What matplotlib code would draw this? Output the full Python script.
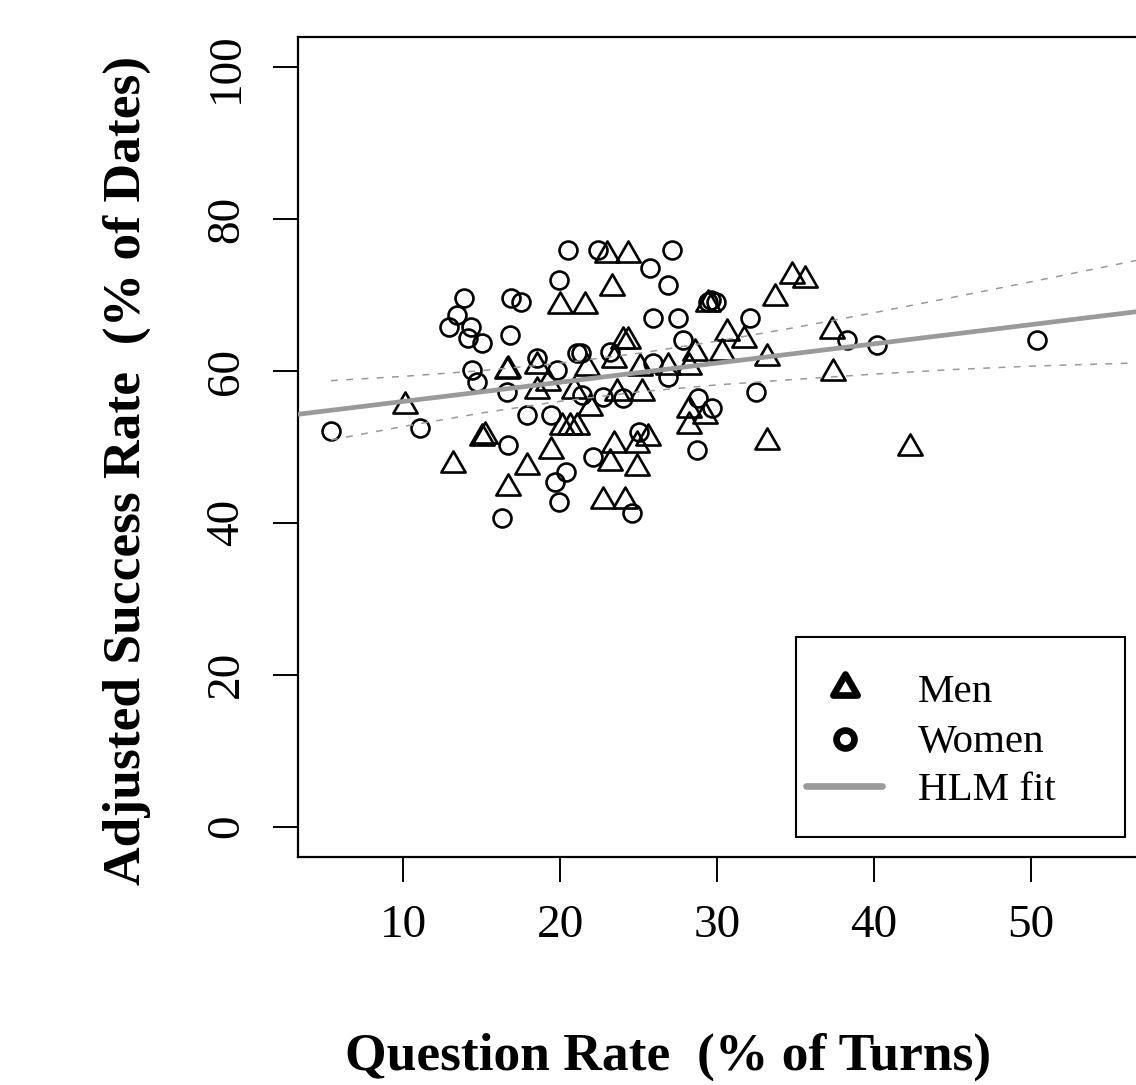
import matplotlib
matplotlib.use("Agg")
import matplotlib.pyplot as plt
from matplotlib.lines import Line2D
from matplotlib.patches import Rectangle
from matplotlib.path import Path

# ---------------- data ----------------
men_x = [10.1, 13.2, 15.0, 15.2, 16.7, 17.9, 19.4, 16.6, 16.7, 18.5, 18.5, 19.2, 20.9,
         20.0, 21.6, 23.0, 24.3, 23.3, 24.0, 24.3, 21.7, 23.4, 25.1, 26.9, 28.2, 28.6,
         30.3, 30.6, 31.7, 33.2, 33.7, 34.8, 35.6, 37.3, 37.4, 42.3, 33.2, 29.4, 23.6,
         25.2, 21.9, 20.1, 20.6, 21.1, 23.4, 24.9, 25.6, 23.2, 24.9, 22.7, 24.1, 28.2,
         28.2, 29.2]
men_y = [55.4, 47.6, 51.2, 51.4, 44.6, 47.3, 49.5, 60.0, 60.2, 60.7, 57.4, 58.4, 57.4,
         68.6, 68.6, 75.3, 75.3, 70.9, 64.0, 64.0, 60.4, 61.5, 60.4, 60.5, 60.5, 62.4,
         62.4, 65.0, 64.1, 61.7, 69.6, 72.5, 72.0, 65.3, 59.8, 49.9, 50.6, 68.8, 57.1,
         57.1, 55.1, 52.6, 52.6, 52.6, 50.3, 50.3, 51.2, 47.9, 47.2, 42.9, 42.9, 54.9,
         52.8, 54.1]

women_x = [5.4, 11.1, 12.9, 13.4, 13.9, 14.3, 14.1, 15.0, 14.4, 14.7, 16.9, 17.5, 16.8,
           16.6, 16.7, 16.3, 17.9, 18.5, 19.8, 19.4, 19.7, 19.9, 20.4, 19.9, 20.5, 21.1,
           21.3, 22.4, 22.1, 21.4, 22.7, 23.2, 24.0, 24.6, 25.0, 25.9, 25.7, 25.9, 26.9,
           27.1, 26.9, 27.5, 27.8, 28.7, 28.8, 29.7, 29.4, 29.6, 29.9, 32.1, 32.5, 38.3,
           40.2, 50.4]
women_y = [52.1, 52.5, 65.8, 67.4, 69.6, 65.8, 64.3, 63.7, 60.1, 58.6, 69.6, 69.1, 64.7,
           57.2, 50.3, 40.7, 54.2, 61.7, 60.1, 54.2, 45.4, 42.8, 46.7, 72.0, 75.9, 62.4,
           62.4, 75.9, 48.7, 56.8, 56.6, 62.5, 56.4, 41.3, 52.0, 67.0, 73.6, 61.0, 71.3,
           75.9, 59.2, 67.0, 64.1, 49.6, 56.4, 55.1, 69.1, 69.3, 69.1, 67.0, 57.2, 64.1,
           63.4, 64.1]

fit_intercept = 53.47
fit_slope = 0.253

ci_x = [5.4, 10, 15, 20, 25, 30, 35, 40, 45, 50, 56.7]
ci_upper = [58.74, 59.30, 60.06, 61.04, 62.34, 63.94, 65.75, 67.69, 69.71, 71.76, 74.57]
ci_lower = [50.94, 52.70, 54.48, 56.02, 57.26, 58.18, 58.91, 59.60, 60.20, 60.65, 61.07]

x_ticks = [10, 20, 30, 40, 50]
y_ticks = [0, 20, 40, 60, 80, 100]
x_label = "Question Rate  (% of Turns)"
y_label = "Adjusted Success Rate  (% of Dates)"
legend_labels = ["Men", "Women", "HLM fit"]

# ---------------- styling ----------------
plt.rcParams["font.family"] = ["Liberation Serif", "DejaVu Serif"]
W, H = 1136, 1085
GRAY = "#9a9a9a"

# R-style open triangle (pch = 2): centroid at the origin
tri = Path([(0, 1.555), (1.347, -0.778), (-1.347, -0.778), (0, 0)],
           [Path.MOVETO, Path.LINETO, Path.LINETO, Path.CLOSEPOLY])

fig = plt.figure(figsize=(W / 100, H / 100), dpi=100)
ax = fig.add_axes([298 / W, (H - 857) / H, (1141 - 298) / W, 820 / H])
ax.set_xlim(3.3, 57.0)
ax.set_ylim(-4, 104)

ax.plot(men_x, men_y, linestyle="none", marker=tri, ms=20.2, mfc="none",
        mec="black", mew=1.9, zorder=3)
ax.plot(women_x, women_y, linestyle="none", marker="o", ms=12.9, mfc="none",
        mec="black", mew=1.9, zorder=3)

ax.plot(ci_x, ci_upper, color=GRAY, lw=1.1, dashes=(4.5, 5.5), zorder=4)
ax.plot(ci_x, ci_lower, color=GRAY, lw=1.1, dashes=(4.5, 5.5), zorder=4)
ax.axline((0, fit_intercept), slope=fit_slope, color=GRAY, lw=3.4,
          solid_capstyle="butt", zorder=5)

ax.set_xticks(x_ticks)
ax.set_yticks(y_ticks)
ax.tick_params(axis="both", direction="out", length=18, width=1.4,
               labelsize=34, color="black")
ax.tick_params(axis="x", pad=16)
ax.tick_params(axis="y", pad=18)
for lab in ax.get_yticklabels():
    lab.set_rotation(90)
    lab.set_va("center")
for sp in ax.spines.values():
    sp.set_linewidth(1.6)

fig.text(668 / W, 1 - 1070 / H, x_label, ha="center", va="baseline",
         fontsize=38.5, fontweight="bold")
fig.text(127 / W, 1 - 470 / H, y_label, ha="center", va="center",
         rotation=90, fontsize=38.5, fontweight="bold")

# ---------------- legend (R style box) ----------------
fig.add_artist(Rectangle((796 / W, 1 - 837 / H), (1125 - 796) / W, (837 - 637) / H,
                         transform=fig.transFigure, fill=True, facecolor="white",
                         edgecolor="black", lw=1.5, zorder=10))
fig.add_artist(Line2D([845 / W], [1 - 688 / H], marker=tri, ms=20.2, mew=4.8,
                      mfc="none", mec="black", linestyle="none",
                      transform=fig.transFigure, zorder=11))
fig.add_artist(Line2D([845 / W], [1 - 739 / H], marker="o", ms=12.9, mew=4.8,
                      mfc="none", mec="black", linestyle="none",
                      transform=fig.transFigure, zorder=11))
fig.add_artist(Line2D([806 / W, 882 / W], [1 - 786 / H, 1 - 786 / H], color=GRAY,
                      lw=4.8, solid_capstyle="round",
                      transform=fig.transFigure, zorder=11))
for lab, yb in zip(legend_labels, [702, 752, 800]):
    fig.text(918 / W, 1 - yb / H, lab, fontsize=29.5, va="baseline", zorder=12)

fig.savefig("out.png", dpi=100)
